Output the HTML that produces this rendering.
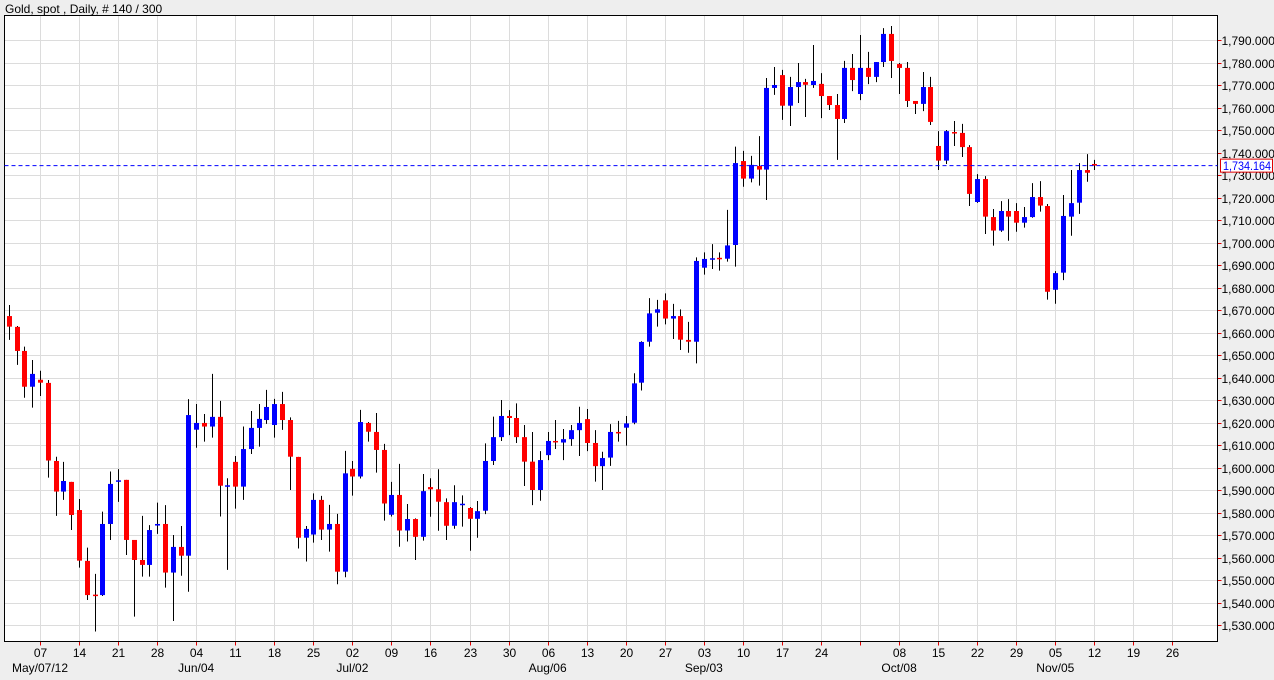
<!DOCTYPE html>
<html><head><meta charset="utf-8"><style>
html,body{margin:0;padding:0;background:#eeeeee;}
svg{display:block;font-family:"Liberation Sans",sans-serif;}
</style></head><body>
<svg id="chart" width="1274" height="680" viewBox="0 0 1274 680" xmlns="http://www.w3.org/2000/svg">
<rect x="0" y="0" width="1274" height="680" fill="#eeeeee"/>
<text x="5" y="13" font-size="12" fill="#000">Gold, spot , Daily, # 140 / 300</text>
<rect x="4.5" y="15.5" width="1213" height="626" fill="#fff"/>
<g id="grid"></g>
<g id="candles"></g>
<g id="axes"></g>
</svg>
<script>
const opens=[1667.3,1662.5,1651.8,1635.9,1639,1637.6,1602.9,1589.3,1593.6,1581.1,1558.5,1543.5,1543.3,1574.9,1594.3,1594.5,1567.8,1558.9,1556.7,1574.2,1574.9,1553.3,1564.7,1560.8,1616.8,1619.8,1618.2,1622.5,1592.1,1602.5,1591.5,1608.2,1617.6,1621.1,1618.9,1628.2,1621.1,1604.7,1568.8,1570.2,1585.6,1572.4,1574.9,1553.7,1599.4,1596,1619.8,1615.8,1607.8,1579,1587.8,1572,1577.1,1569.2,1591.3,1590.3,1584.6,1574.1,1583.9,1582,1577.2,1580.8,1602.9,1613.5,1622.9,1622,1613.5,1602.6,1590,1605.5,1611.8,1611.1,1612.6,1616.6,1621.5,1610.9,1600.6,1604.4,1615.8,1617.7,1619.9,1637.7,1655.9,1668.8,1674.3,1666.2,1667.3,1656.7,1655.9,1688.8,1693,1693.2,1692.8,1698.9,1736.2,1728.4,1734,1732.4,1768.7,1774.4,1760.8,1769.1,1771.3,1770,1770.5,1765.1,1761.1,1754.9,1777.6,1766,1777.6,1773.6,1780.2,1792.7,1779.3,1777.6,1762.9,1761.6,1769.1,1742.9,1736.4,1749.1,1748.7,1742.4,1718,1728.2,1711.3,1705.3,1714,1714,1708.8,1711.3,1720.2,1716.2,1679,1686.6,1711.5,1717.7,1732.2,1734.9];
const highs=[1672.2,1662.9,1653.7,1647.8,1643,1638.9,1604.8,1602.5,1593.6,1586,1564.4,1552.7,1580.4,1598.2,1599.3,1594.5,1567.8,1578.5,1574.4,1584.4,1583.3,1570,1574,1630.4,1628.2,1623.8,1641.6,1629.6,1595.2,1605.1,1618.2,1625.1,1628.2,1634.5,1630.5,1633.6,1622.3,1604.7,1574,1588.5,1587.4,1583.4,1579.4,1607.4,1602.9,1625.6,1620.2,1624.2,1610.5,1593.6,1601.6,1583.8,1577.4,1597.1,1595.2,1599.2,1586.3,1592.1,1587.6,1582.4,1585.1,1610.7,1622.6,1630,1625.5,1628.5,1618.9,1615.8,1607.3,1615.8,1621.1,1617.1,1618.9,1627,1626,1616.6,1607,1619.3,1620.7,1622.9,1641.9,1656.1,1675.3,1674.5,1677.4,1672.7,1670.3,1664.7,1693.4,1695.6,1699.3,1695.6,1714.5,1742.6,1740.7,1738.5,1747.3,1773.1,1778,1776.7,1773.6,1779.8,1772.7,1787.8,1775.3,1765.1,1766,1780.7,1783.8,1792.2,1784.7,1780.2,1795.3,1796.2,1779.8,1780.2,1762.9,1775.8,1773.6,1749.5,1750,1754,1752.7,1743.3,1730.4,1729.5,1714.9,1718.4,1719.3,1717.5,1715.8,1726.4,1727.3,1717.1,1687.3,1721.1,1732.2,1735.3,1739.3,1736.7];
const lows=[1656.7,1645.6,1631,1626.6,1631.8,1595.5,1578.5,1585.6,1572.2,1555.5,1541.1,1527.1,1542.9,1567.8,1584.7,1561.1,1533.7,1551.5,1551.5,1570.5,1546.6,1531.8,1551.9,1544.8,1608.8,1611.5,1613.3,1578.2,1554.5,1581.7,1585.6,1606,1609.3,1619.4,1613.3,1616.7,1590,1564,1558.2,1566.6,1567.8,1562.6,1548.1,1551.2,1587.5,1595.1,1611.5,1597.7,1576.4,1578.2,1564.8,1567.1,1558.9,1567.5,1578.1,1571.9,1567.8,1572.8,1573.7,1563,1568.8,1579.3,1601.1,1611.8,1614.4,1610.9,1591.8,1583.3,1585.2,1603.3,1608.2,1603.3,1609.6,1605.1,1607.3,1593.7,1590,1600.7,1611.5,1609.7,1619.2,1634.2,1653.7,1662.6,1663.6,1657.1,1652.2,1651,1646.3,1685.7,1688.2,1687.5,1691.5,1689.3,1724.8,1726.7,1725.3,1718.9,1765.6,1754.5,1751.8,1762,1755.8,1768.7,1755.3,1758.9,1736.7,1753.1,1767.3,1763.3,1770.4,1771.3,1778,1773.1,1766,1760.2,1757.1,1758.4,1752.2,1732.2,1734.9,1742.9,1738,1716.2,1717.6,1703.8,1698.6,1704.7,1700.8,1704.8,1706.6,1711,1713.7,1674.6,1672.8,1683.3,1703,1712.7,1727,1732.2];
const closes=[1662.6,1651.8,1635.9,1641.6,1637.7,1603.1,1589.3,1594,1578.9,1558.6,1543.3,1543.3,1574.9,1592.7,1594.3,1567.8,1558.9,1556.7,1572.2,1574.9,1553.3,1564.7,1560.8,1623.3,1619.8,1618.2,1622.5,1591.9,1592.1,1591.5,1608.2,1617.6,1621.6,1626.9,1628.2,1621.1,1604.8,1568.8,1572.7,1585.6,1572.4,1574.9,1553.7,1597.4,1596,1620.2,1615.9,1607.8,1584,1587.8,1572,1577.1,1569.2,1589.5,1590.3,1584.8,1574.1,1584.6,1583.9,1577.2,1580.6,1602.9,1613.5,1622.9,1622,1613.5,1602.6,1590,1603.3,1611.8,1611.3,1612.6,1616.6,1619.8,1610.9,1600.6,1604.2,1615.8,1615.5,1619.6,1637.4,1655.8,1668.5,1670.3,1666.2,1667.3,1656.8,1655.9,1691.8,1692.7,1693,1693,1698.7,1735.3,1728.4,1734.5,1732.4,1768.7,1770,1760.8,1769.1,1771.3,1770.1,1771.8,1765.1,1761.1,1754.9,1777.6,1772.2,1777.6,1773.6,1780.2,1792.7,1780.7,1777.6,1762.9,1761.6,1769.1,1753.6,1736.4,1749.5,1748.7,1742.4,1721.6,1728.2,1711.5,1705.3,1714,1711.5,1708.8,1711.3,1720.2,1716.4,1678.1,1686.4,1711.8,1717.5,1732.2,1731,1734.2];
const priceTicks=[1530,1540,1550,1560,1570,1580,1590,1600,1610,1620,1630,1640,1650,1660,1670,1680,1690,1700,1710,1720,1730,1740,1750,1760,1770,1780,1790];
const weekLabels=["07","14","21","28","04","11","18","25","02","09","16","23","30","06","13","20","27","03","10","17","24","","08","15","22","29","05","12","19","26"];
const monthLabels=["May/07/12","Jun/04","Jul/02","Aug/06","Sep/03","Oct/08","Nov/05"];
const monthWeekIdx=[0,4,8,13,17,22,26];
const lastPrice=1734.164;

const NS="http://www.w3.org/2000/svg";
const L=4.5,R=1217.5,T=15.5,B=641.5;
function yOf(p){return 40+(1790-p)*2.25;}
function xOf(i){return 8.76+7.81*i;}
function mk(tag,attrs,parent){const e=document.createElementNS(NS,tag);for(const k in attrs)e.setAttribute(k,attrs[k]);parent.appendChild(e);return e;}
const grid=document.getElementById('grid'),cg=document.getElementById('candles'),ax=document.getElementById('axes');
priceTicks.forEach(p=>{const y=Math.round(yOf(p))+0.5;
 const l=mk('line',{x1:L,x2:R,y1:y,y2:y,stroke:'#dcdcdc','stroke-width':1},grid);
 
 
 const t=mk('line',{x1:R,x2:R+4,y1:y,y2:y,stroke:'#e00000','stroke-width':1},ax);
 
 
 const tx=mk('text',{x:R+4,y:y+4.5,'font-size':12,fill:'#000'},ax);
 tx.textContent=p.toLocaleString('en-US')+'.000';
 
 
});
weekLabels.forEach((w,k)=>{const x=Math.round(xOf(4+5*k))+0.5;
 const l=mk('line',{x1:x,x2:x,y1:T,y2:B,stroke:'#dcdcdc','stroke-width':1},grid);
 
 
 const t=mk('line',{x1:x,x2:x,y1:B,y2:B+4,stroke:'#e00000','stroke-width':1},ax);
 
 
 if(w){
 const tx=mk('text',{x:x,y:657,'font-size':12,fill:'#000','text-anchor':'middle'},ax);
 tx.textContent=w;
 
 
 }
});
monthLabels.forEach((m,k)=>{const x=xOf(4+5*monthWeekIdx[k]);
 const tx=mk('text',{x:x,y:672,'font-size':12,fill:'#000','text-anchor':'middle'},ax);
 tx.textContent=m;
 
 
});
const border=mk('rect',{x:L,y:T,width:R-L,height:B-T,fill:'none',stroke:'#000','stroke-width':1},ax);


for(let i=0;i<opens.length;i++){
 const x=Math.round(xOf(i)),o=opens[i],c=closes[i];
 const col=c>=o?'#0000ff':'#ff0000';
 const g=mk('g',{},cg);
 
 
 mk('line',{x1:x+0.5,x2:x+0.5,y1:yOf(highs[i]),y2:yOf(lows[i]),stroke:'#000','stroke-width':1},g);
 const y1=yOf(Math.max(o,c)),y2=yOf(Math.min(o,c));
 const h=Math.max(y2-y1,1.5);
 mk('rect',{x:x-2,y:y1,width:5,height:h,fill:col},g);
}
const py=yOf(lastPrice);
const pl=mk('line',{x1:L,x2:R,y1:py,y2:py,stroke:'#0000ff','stroke-width':1,'stroke-dasharray':'4,3'},ax);


const pb=mk('rect',{x:1220.5,y:py-6.5,width:52,height:13,fill:'#fff',stroke:'#e00000','stroke-width':1},ax);


const pt=mk('text',{x:1223,y:py+4.5,'font-size':12,fill:'#0000ff',textLength:48,lengthAdjust:'spacingAndGlyphs'},ax);
pt.textContent=lastPrice.toLocaleString('en-US',{minimumFractionDigits:3});


</script>
</body></html>
